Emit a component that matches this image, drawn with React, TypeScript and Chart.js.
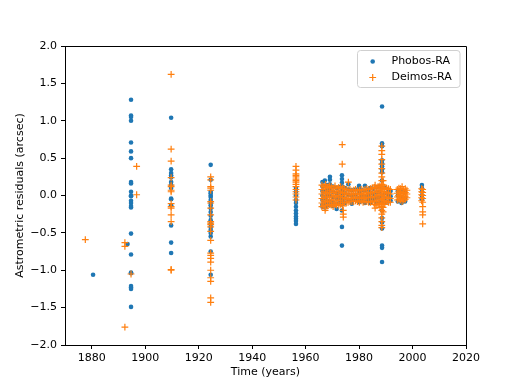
import React, { useEffect, useRef } from "react";
import { Chart, registerables } from "chart.js";
Chart.register(...registerables);

const X_TICKS = [1880, 1900, 1920, 1940, 1960, 1980, 2000, 2020];
const X_TICK_LABELS = ["1880", "1900", "1920", "1940", "1960", "1980", "2000", "2020"];
const Y_TICKS = [-2, -1.5, -1, -0.5, 0, 0.5, 1, 1.5, 2];
const Y_TICK_LABELS = ["\u22122.0", "\u22121.5", "\u22121.0", "\u22120.5", "0.0", "0.5", "1.0", "1.5", "2.0"];
const X_TITLE = "Time (years)";
const Y_TITLE = "Astrometric residuals (arcsec)";
const SERIES_NAMES = ["Phobos-RA", "Deimos-RA"];

// [year, residuals observed in that year]
const phobosColumns: [number, number[]][] = [
  [1880.5, [-1.06]],
  [1893.4, [-0.65]],
  [1894.7, [1.28, 1.07, 1.05, 1.0, 0.71, 0.59, 0.5, 0.18, 0.16, 0.05, 0.0, -0.01, -0.07, -0.1, -0.14, -0.16, -0.51, -0.79, -1.03, -1.04, -1.21, -1.23, -1.25, -1.49]],
  [1909.7, [1.04, 0.35, 0.3, 0.27, 0.24, 0.18, 0.14, 0.1, -0.04, -0.05, -0.13, -0.4, -0.63, -0.77]],
  [1924.5, [0.41, 0.21, 0.05, 0.03, 0.0, -0.02, -0.06, -0.1, -0.13, -0.17, -0.22, -0.27, -0.33, -0.38, -0.42, -0.46, -0.5, -0.55, -0.75, -1.06]],
  [1956.4, [0.1, 0.05, 0.0, -0.06, -0.1, -0.15, -0.2, -0.24, -0.28, -0.31, -0.34, -0.38]],
  [1966.3, [0.18, 0.12, 0.06, 0.0, -0.06, -0.12, -0.15]],
  [1967.2, [0.2, 0.13, 0.05, -0.03, -0.1, -0.16]],
  [1968.1, [0.14, 0.07, 0.0, -0.07, -0.13]],
  [1969.1, [0.25, 0.21, 0.15, 0.08, 0.0, -0.08, -0.13]],
  [1970.2, [0.12, 0.05, -0.02, -0.09, -0.14]],
  [1971.6, [0.1, 0.03, -0.04, -0.11, -0.18]],
  [1972.6, [0.11, 0.04, -0.03, -0.1]],
  [1973.6, [0.27, 0.22, 0.17, 0.12, 0.06, 0.0, -0.06, -0.12, -0.2, -0.42, -0.67]],
  [1974.7, [0.1, 0.03, -0.04, -0.1]],
  [1976.0, [0.15, 0.08, 0.01, -0.06]],
  [1977.3, [0.07, 0.0, -0.07, -0.11]],
  [1978.7, [0.08, 0.01, -0.06]],
  [1980.0, [0.13, 0.1, 0.04, -0.03, -0.09]],
  [1981.1, [0.07, 0.0, -0.07]],
  [1982.2, [0.13, 0.06, -0.01, -0.08, -0.1]],
  [1983.3, [0.08, 0.01, -0.06]],
  [1984.1, [0.1, 0.04, -0.03, -0.1]],
  [1985.3, [0.09, 0.02, -0.05]],
  [1986.5, [0.11, 0.04, -0.03, -0.1]],
  [1987.6, [0.12, 0.05, -0.02, -0.09]],
  [1988.6, [1.19, 0.7, 0.66, 0.47, 0.43, 0.39, 0.35, 0.31, 0.2, 0.1, 0.0, -0.1, -0.2, -0.3, -0.36, -0.44, -0.67, -0.7, -0.89]],
  [1989.8, [0.1, 0.03, -0.04, -0.1]],
  [1991.0, [0.07, 0.0, -0.08]],
  [1991.8, [0.06, -0.01, -0.07]],
  [1994.5, [0.06, 0.0, -0.08]],
  [1995.9, [0.05, -0.02, -0.1]],
  [1997.2, [0.04, -0.03, -0.08]],
  [2003.5, [0.14, 0.1, 0.05, 0.0, -0.05]],
];

const deimosColumns: [number, number[]][] = [
  [1877.6, [-0.59]],
  [1892.4, [-0.63, -0.68, -1.76]],
  [1894.7, [-1.05]],
  [1896.8, [0.39, 0.01]],
  [1909.7, [1.62, 0.62, 0.46, 0.24, 0.14, 0.12, 0.07, 0.05, -0.11, -0.15, -0.17, -0.26, -0.35, -0.99, -1.0]],
  [1924.5, [0.25, 0.21, 0.12, 0.1, 0.07, -0.08, -0.1, -0.17, -0.26, -0.35, -0.37, -0.39, -0.42, -0.48, -0.6, -0.77, -0.8, -0.84, -0.89, -1.0, -1.1, -1.15, -1.37, -1.43]],
  [1956.4, [0.39, 0.34, 0.29, 0.27, 0.25, 0.22, 0.2, 0.18, 0.15, 0.12, 0.08, 0.05, 0.02, -0.02, -0.06]],
  [1966.1, [0.14, 0.08, 0.02, -0.04, -0.1, -0.15]],
  [1966.8, [0.12, 0.05, -0.01, -0.07, -0.13]],
  [1967.5, [0.15, 0.09, 0.03, -0.03, -0.09, -0.17]],
  [1968.2, [0.11, 0.04, -0.02, -0.08, -0.14]],
  [1968.9, [0.13, 0.07, 0.01, -0.05, -0.12]],
  [1969.6, [0.12, 0.06, -0.01, -0.07, -0.13]],
  [1970.3, [0.1, 0.04, -0.02, -0.09, -0.15]],
  [1971.0, [0.13, 0.06, 0.0, -0.06, -0.12]],
  [1971.7, [0.09, 0.03, -0.03, -0.1]],
  [1972.4, [0.11, 0.05, -0.01, -0.07, -0.13]],
  [1973.1, [0.12, 0.06, 0.0, -0.06, -0.12]],
  [1973.8, [0.1, 0.04, -0.03, -0.09, -0.14]],
  [1974.5, [0.09, 0.03, -0.03, -0.09]],
  [1975.2, [0.08, 0.02, -0.04, -0.1]],
  [1975.9, [0.07, 0.01, -0.05, -0.09]],
  [1976.6, [0.08, 0.02, -0.04, -0.08]],
  [1977.3, [0.06, 0.01, -0.04, -0.08]],
  [1978.0, [0.07, 0.02, -0.03, -0.08]],
  [1978.7, [0.08, 0.03, -0.02, -0.07]],
  [1979.4, [0.06, 0.01, -0.04, -0.08]],
  [1980.1, [0.07, 0.02, -0.03, -0.09]],
  [1980.8, [0.08, 0.03, -0.02, -0.07]],
  [1981.5, [0.07, 0.01, -0.04, -0.09]],
  [1982.2, [0.08, 0.02, -0.03, -0.08]],
  [1982.9, [0.09, 0.04, -0.02, -0.08]],
  [1983.6, [0.08, 0.02, -0.03, -0.09]],
  [1984.3, [0.09, 0.03, -0.03, -0.09]],
  [1985.0, [0.1, 0.04, -0.02, -0.08]],
  [1985.7, [0.11, 0.05, -0.01, -0.07, -0.12]],
  [1986.4, [0.1, 0.04, -0.02, -0.08, -0.13]],
  [1987.1, [0.12, 0.06, 0.0, -0.06, -0.12]],
  [1987.8, [0.13, 0.07, 0.01, -0.05, -0.11, -0.16]],
  [1988.5, [0.66, 0.6, 0.55, 0.48, 0.42, 0.36, 0.3, 0.25, 0.2, 0.15, 0.1, 0.05, 0.0, -0.05, -0.1, -0.15, -0.2, -0.25, -0.3, -0.35, -0.4, -0.43]],
  [1989.0, [0.2, 0.14, 0.08, 0.02, -0.04, -0.1, -0.16, -0.22]],
  [1989.6, [0.11, 0.05, -0.01, -0.07, -0.12]],
  [1990.3, [0.1, 0.04, -0.02, -0.08]],
  [1991.0, [0.09, 0.03, -0.03, -0.09]],
  [1991.7, [0.08, 0.02, -0.04, -0.09]],
  [1967.3, [-0.2]],
  [1971.6, [-0.13]],
  [1973.7, [0.68, 0.42]],
  [1974.1, [-0.2, -0.25, -0.29]],
  [1976.0, [0.18]],
  [1986.0, [0.14, -0.17]],
  [1994.3, [0.08, 0.03, -0.02, -0.06]],
  [1994.9, [0.1, 0.05, 0.0, -0.05]],
  [1995.5, [0.09, 0.04, -0.01, -0.06]],
  [1996.1, [0.12, 0.06, 0.01, -0.04, -0.08]],
  [1996.7, [0.08, 0.03, -0.02, -0.06]],
  [1997.3, [0.09, 0.04, -0.01, -0.05]],
  [1997.9, [0.07, 0.02, -0.03]],
  [2003.4, [0.09, 0.05, 0.01, -0.03, -0.07]],
  [2003.8, [0.08, 0.04, 0.0, -0.04, -0.09, -0.15, -0.22, -0.26, -0.38]],
];

const BLUE = "#1f77b4";
const ORANGE = "#ff7f0e";
const FONT = "DejaVu Sans";

function toPoints(cols: [number, number[]][]) {
  const pts: { x: number; y: number }[] = [];
  cols.forEach(([yr, vals]) => vals.forEach((v) => pts.push({ x: yr, y: v })));
  return pts;
}

export default function App() {
  const ref = useRef<HTMLCanvasElement>(null);
  useEffect(() => {
    if (!ref.current) return;
    const al = (v: number) => Math.round(v) + 0.5;
    const framePlugin = {
      id: "frame",
      afterDraw(chart: any) {
        const { ctx, chartArea: a } = chart;
        ctx.save();
        ctx.strokeStyle = "#000";
        ctx.lineWidth = 1;
        ctx.beginPath();
        ctx.moveTo(al(a.left), al(a.top));
        ctx.lineTo(al(a.right), al(a.top));
        ctx.lineTo(al(a.right), al(a.bottom));
        ctx.stroke();

        // axis titles
        ctx.fillStyle = "#000";
        ctx.font = `11px "${FONT}"`;
        ctx.textAlign = "center";
        ctx.textBaseline = "middle";
        ctx.fillText(X_TITLE, (a.left + a.right) / 2, 372.5);
        ctx.save();
        ctx.translate(20, (a.top + a.bottom) / 2);
        ctx.rotate(-Math.PI / 2);
        ctx.fillText(Y_TITLE, 0, 0);
        ctx.restore();

        // legend
        const lx = 357.5, ly = 50.5, lw = 102.5, lh = 37;
        ctx.beginPath();
        (ctx as any).roundRect(lx, ly, lw, lh, 3);
        ctx.fillStyle = "rgba(255,255,255,0.8)";
        ctx.fill();
        ctx.strokeStyle = "#d0d0d0";
        ctx.lineWidth = 1;
        ctx.stroke();
        const mx = 372.7;
        const r1 = 61.5, r2 = 77.5;
        ctx.fillStyle = BLUE;
        ctx.beginPath();
        ctx.arc(mx, r1, 2.3, 0, Math.PI * 2);
        ctx.fill();
        ctx.strokeStyle = ORANGE;
        ctx.lineWidth = 1.2;
        ctx.beginPath();
        ctx.moveTo(mx - 3.4, r2);
        ctx.lineTo(mx + 3.4, r2);
        ctx.moveTo(mx, r2 - 3.4);
        ctx.lineTo(mx, r2 + 3.4);
        ctx.stroke();
        ctx.fillStyle = "#000";
        ctx.textAlign = "left";
        ctx.fillText(SERIES_NAMES[0], 391.5, r1);
        ctx.fillText(SERIES_NAMES[1], 391.5, r2);
        ctx.restore();
      },
    };

    const chart = new Chart(ref.current, {
      type: "scatter",
      data: {
        datasets: [
          {
            label: SERIES_NAMES[0],
            data: toPoints(phobosColumns),
            backgroundColor: BLUE,
            borderColor: BLUE,
            pointStyle: "circle",
            pointRadius: 2.3,
            pointBorderWidth: 0,
            order: 1,
          },
          {
            label: SERIES_NAMES[1],
            data: toPoints(deimosColumns),
            backgroundColor: ORANGE,
            borderColor: ORANGE,
            pointStyle: "cross",
            pointRadius: 3.4,
            pointBorderWidth: 1.2,
            order: 0,
          },
        ],
      },
      options: {
        responsive: false,
        animation: false,
        devicePixelRatio: 1,
        events: [],
        layout: { padding: { left: 0, top: 46, right: 52, bottom: 0 } },
        plugins: { legend: { display: false }, tooltip: { enabled: false }, title: { display: false } },
        scales: {
          x: {
            type: "linear",
            min: 1870,
            max: 2020,
            afterBuildTicks: (s: any) => {
              s.ticks = X_TICKS.map((v) => ({ value: v }));
            },
            afterFit: (s: any) => {
              s.height = 43;
            },
            ticks: {
              autoSkip: false,
              maxRotation: 0,
              padding: 3,
              color: "#000",
              font: { family: FONT, size: 11 },
              callback: (_v: any, i: number) => X_TICK_LABELS[i],
            },
            grid: { display: true, drawOnChartArea: false, drawTicks: true, tickLength: 4, tickColor: "#000", tickWidth: 1 },
            border: { display: true, color: "#000", width: 1 },
          },
          y: {
            type: "linear",
            min: -2,
            max: 2,
            afterBuildTicks: (s: any) => {
              s.ticks = Y_TICKS.map((v) => ({ value: v }));
            },
            afterFit: (s: any) => {
              s.width = 65;
            },
            ticks: {
              autoSkip: false,
              padding: 4,
              color: "#000",
              font: { family: FONT, size: 11 },
              callback: (_v: any, i: number) => Y_TICK_LABELS[i],
            },
            grid: { display: true, drawOnChartArea: false, drawTicks: true, tickLength: 4, tickColor: "#000", tickWidth: 1 },
            border: { display: true, color: "#000", width: 1 },
          },
        },
      },
      plugins: [framePlugin],
    });
    return () => chart.destroy();
  }, []);

  return (
    <div style={{ position: "fixed", left: 0, top: 0, width: 518, height: 388, background: "#fff" }}>
      <canvas ref={ref} width={518} height={388} style={{ display: "block" }} />
    </div>
  );
}
